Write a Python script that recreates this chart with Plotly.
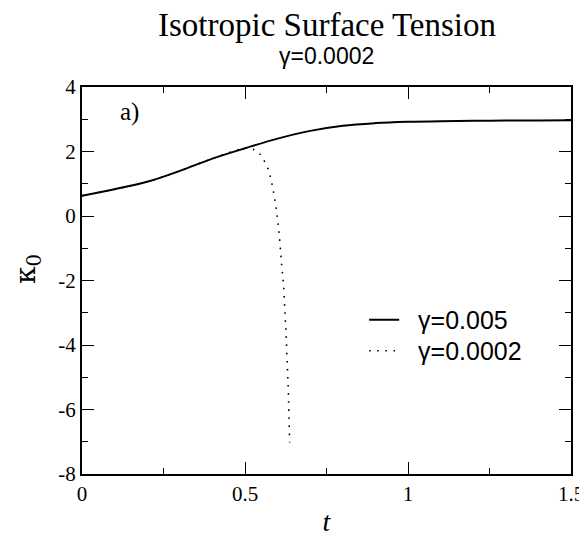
import plotly.graph_objects as go

# dados
t_005 = [0.0, 0.1, 0.2, 0.3, 0.4, 0.5, 0.6, 0.7, 0.8, 0.9, 1.0, 1.1, 1.2, 1.3, 1.4, 1.5]
k_005 = [0.63, 0.83, 1.06, 1.40, 1.78, 2.10, 2.40, 2.64, 2.80, 2.88, 2.92, 2.94, 2.95, 2.96, 2.96, 2.97]

t_0002 = [0.0, 0.1, 0.2, 0.3, 0.4, 0.5, 0.525, 0.546, 0.559, 0.570, 0.577, 0.583, 0.588,
          0.592, 0.596, 0.599, 0.602, 0.605, 0.609, 0.613, 0.618, 0.622, 0.626, 0.630,
          0.633, 0.635, 0.637]
k_0002 = [0.63, 0.83, 1.06, 1.40, 1.78, 2.10, 2.07, 1.92, 1.71, 1.48, 1.24, 0.98, 0.72,
          0.47, 0.21, -0.05, -0.31, -0.57, -1.08, -1.59, -2.11, -2.88, -3.66, -4.69,
          -5.47, -6.24, -7.02]

x_ticks = [0, 0.5, 1, 1.5]
x_labels = ['0', '0.5', '1', '1.5']
y_ticks = [-8, -6, -4, -2, 0, 2, 4]
y_labels = ['-8', '-6', '-4', '-2', '0', '2', '4']

fig = go.Figure()
fig.add_trace(go.Scatter(x=t_005, y=k_005, mode='lines', name='  γ=0.005', legend='legend',
                         line=dict(color='black', width=2, shape='spline')))
fig.add_trace(go.Scatter(x=t_0002, y=k_0002, mode='lines', name='  γ=0.0002', legend='legend2',
                         line=dict(color='black', width=1.6, dash='1.6px,6.5px', shape='spline')))

eixo = dict(showline=True, linewidth=2, linecolor='black', mirror='ticks',
            ticks='inside', ticklen=12, tickwidth=1, tickcolor='black',
            showgrid=False, zeroline=False, automargin=False,
            tickfont=dict(family='Liberation Serif', size=21, color='black'))

leg = dict(xanchor='left', yanchor='middle', bgcolor='rgba(0,0,0,0)',
           font=dict(family='Liberation Sans', size=25, color='black'))

# a página tem 8px de margem no body, por isso a figura é 8px menor
fig.update_layout(
    width=579, height=531,
    margin=dict(l=74, r=16, t=79, b=65),
    plot_bgcolor='white', paper_bgcolor='white',
    showlegend=True,
    legend=dict(leg, x=0.577, y=0.398),
    legend2=dict(leg, x=0.577, y=0.318),
    xaxis=dict(eixo, range=[0, 1.5], tickvals=x_ticks, ticktext=x_labels,
               minor=dict(dtick=0.25, ticks='inside', ticklen=6, tickcolor='black'),
               title=dict(text='<i>t</i>', font=dict(family='Liberation Serif', size=28, color='black'),
                          standoff=6)),
    yaxis=dict(eixo, range=[-8, 4], tickvals=y_ticks, ticktext=y_labels,
               minor=dict(dtick=1, ticks='inside', ticklen=6, tickcolor='black')),
)

# título do eixo y (kappa com índice 0)
fig.add_annotation(text='κ<sub>0</sub>', x=-0.11, y=0.53, xref='paper', yref='paper',
                   xanchor='center', yanchor='middle',
                   textangle=-90, showarrow=False,
                   font=dict(family='DejaVu Serif', size=28, color='black'))

fig.add_annotation(text='Isotropic Surface Tension', x=0.5, y=1.0, xref='paper', yref='paper',
                   yshift=42, showarrow=False, yanchor='bottom',
                   font=dict(family='Liberation Serif', size=33, color='black'))
fig.add_annotation(text='γ=0.0002', x=0.5, y=1.0, xref='paper', yref='paper',
                   yshift=16, showarrow=False, yanchor='bottom',
                   font=dict(family='Liberation Sans', size=23, color='black'))
fig.add_annotation(text='a)', x=0.147, y=3.22, showarrow=False,
                   font=dict(family='Liberation Serif', size=25, color='black'))

fig.write_html("out.html")
